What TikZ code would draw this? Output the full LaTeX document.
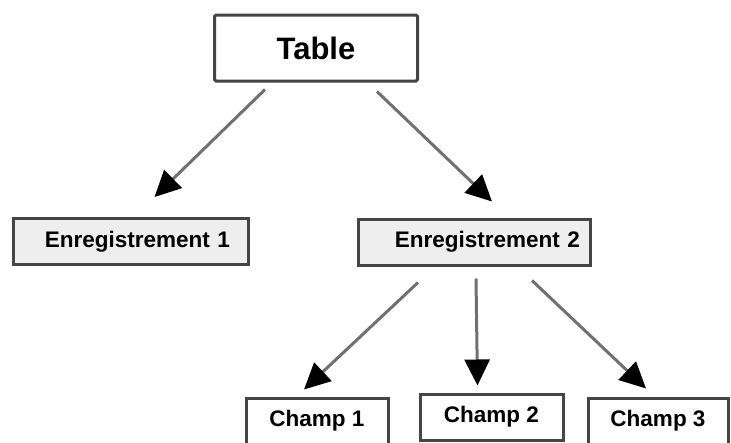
\documentclass[tikz,border=0pt]{standalone}
\usepackage{fontspec}
\setmainfont{Liberation Sans}
\usetikzlibrary{arrows.meta,calc}
\definecolor{bordergray}{HTML}{454545}
\definecolor{linegray}{HTML}{707070}
\definecolor{boxfill}{HTML}{EEEEEE}
\tikzset{
  topbox/.style={draw=bordergray, line width=3pt, fill=white, rounded corners=1.5pt,
    minimum width=203pt, minimum height=66pt, inner sep=0pt,
    font=\fontsize{31}{31}\selectfont\bfseries},
  recbox/.style={draw=bordergray, line width=3pt, fill=boxfill,
    minimum height=46pt, inner sep=0pt, align=right,
    font=\fontsize{22.5}{22.5}\selectfont\bfseries},
  fieldbox/.style={draw=bordergray, line width=3pt, fill=white,
    minimum height=46pt, inner sep=0pt,
    font=\fontsize{22.5}{22.5}\selectfont\bfseries},
  conn/.style={draw=linegray, line width=3pt,
    -{Triangle[length=26pt,width=25pt,color=black,fill=black]}}
}
\begin{document}
\begin{tikzpicture}[x=1pt,y=-1pt]
\useasboundingbox (0,0) rectangle (731,442);
\node[topbox] (tab) at (316,48) {Table};
\node[recbox, minimum width=235pt, text width=199pt] (e1) at (130.5,241.5) {Enregistrement 1};
\node[recbox, minimum width=232pt, text width=212pt] (e2) at (474,242) {Enregistrement 2};
\node[fieldbox, minimum width=142pt] (c1) at (317,421) {Champ 1};
\node[fieldbox, minimum width=143pt] (c2) at (491.5,417) {Champ 2};
\node[fieldbox, minimum width=140pt] (c3) at (658,421) {Champ 3};
\draw[conn] ($(tab.south)+(-51,7)$) -- ($(e1.north)+(24,-20)$);
\draw[conn] ($(tab.south)+(61,9)$) -- ($(e2.north)+(18,-16)$);
\draw[conn] ($(e2.south)+(-56,16)$) -- ($(c1.north)+(-13,-7)$);
\draw[conn] ($(e2.south)+(2,12)$) -- ($(c2.north)+(-14,-7)$);
\draw[conn] ($(e2.south)+(58,14)$) -- ($(c3.north)+(-12,-8)$);
\end{tikzpicture}
\end{document}
